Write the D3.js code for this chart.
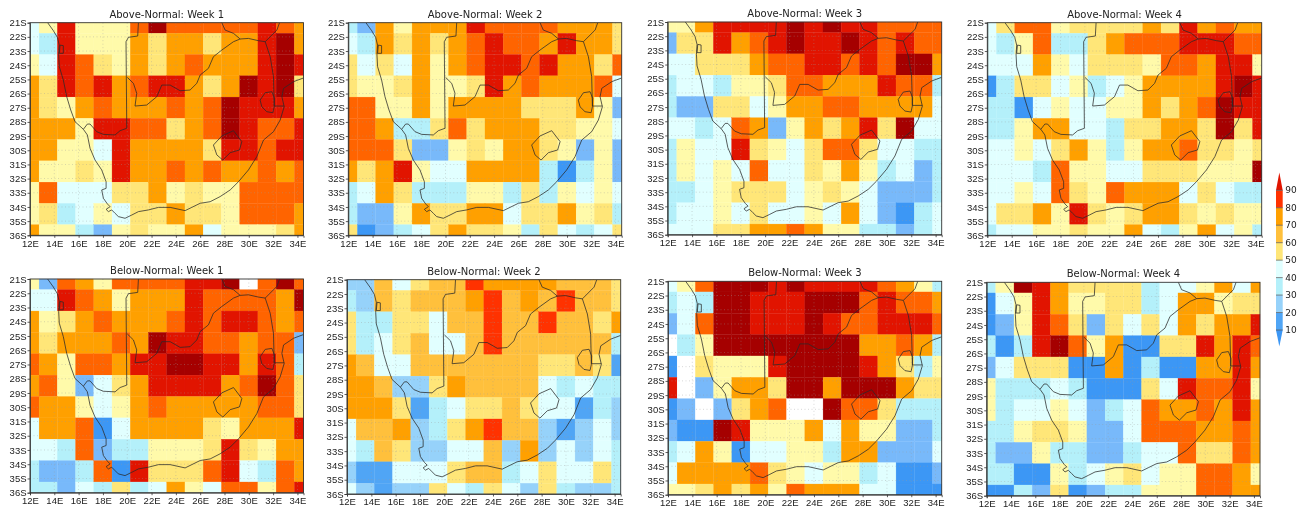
<!DOCTYPE html>
<html>
<head>
<meta charset="utf-8">
<script src="https://d3js.org/d3.v7.min.js"></script>
<style>
	html, body { margin: 0; padding: 0; background: #fff; }
	svg { display: block; filter: blur(0.35px); }
	text { font-family: "DejaVu Sans", sans-serif; fill: #222; }
	.title { font-size: 10px; }
	.axis text { font-family: "Liberation Sans Narrow", "Liberation Sans", sans-serif; font-size: 9.5px; }
	.axis path, .axis line { stroke: #333; stroke-width: 0.8; }
</style>
</head>
<body>
<div id="container"></div>
<script>
//grid centres: 1.5 degree boxes
var lons = [12, 13.5, 15, 16.5, 18, 19.5, 21, 22.5, 24, 25.5, 27, 28.5, 30, 31.5, 33, 34.5];
var lats = [21, 22.5, 24, 25.5, 27, 28.5, 30, 31.5, 33, 34.5, 36];
var lonTicks = [12, 14, 16, 18, 20, 22, 24, 26, 28, 30, 32, 34];
var latTicks = [21, 22, 23, 24, 25, 26, 27, 28, 29, 30, 31, 32, 33, 34, 35, 36];

//probabilities (percent), one row per latitude
var aboveWeek1 = [
	[35,47,85,47,47,47,75,95,75,75,75,75,75,85,75,65],
	[35,25,85,47,47,47,65,55,65,65,55,65,65,85,95,65],
	[47,35,85,75,55,47,65,55,65,75,65,65,65,85,95,85],
	[65,55,85,75,85,65,75,85,85,65,55,65,95,85,95,55],
	[65,55,47,65,75,65,65,65,75,65,75,95,85,85,85,65],
	[65,65,65,47,85,85,75,75,55,65,75,95,85,75,75,85],
	[65,65,47,47,35,85,65,65,65,65,55,85,85,75,85,85],
	[65,47,47,55,47,85,65,65,75,65,75,65,65,75,65,75],
	[47,75,35,35,35,55,55,65,47,55,47,47,75,75,75,75],
	[47,55,25,35,47,35,55,55,65,55,55,47,75,75,75,65],
	[65,47,47,25,15,47,55,47,47,65,35,47,47,47,55,65]
];
var aboveWeek2 = [
	[25,15,65,47,65,65,65,85,75,75,75,75,65,65,65,55],
	[35,25,65,55,65,55,65,75,85,75,75,65,85,65,65,55],
	[55,35,55,35,65,47,65,75,85,85,75,85,65,65,55,75],
	[55,47,47,55,65,47,47,55,85,65,75,65,65,65,75,35],
	[75,75,47,47,65,47,65,65,65,65,55,55,55,65,47,15],
	[75,75,65,25,25,55,75,55,65,65,65,55,55,47,47,35],
	[75,75,75,55,15,15,47,55,47,65,65,55,47,15,47,15],
	[65,55,65,85,47,35,35,65,65,65,65,25,8,25,47,15],
	[25,35,65,55,25,25,25,47,47,25,55,25,47,35,47,35],
	[25,15,15,47,65,55,55,65,65,35,55,55,65,47,55,25],
	[55,8,15,25,35,55,65,55,55,47,25,55,35,25,35,55]
];
var aboveWeek3 = [
	[47,47,65,85,85,85,85,95,85,95,85,85,75,75,75,75],
	[15,55,55,85,65,75,85,95,85,85,95,85,75,85,75,75],
	[35,35,55,55,55,65,75,75,85,85,75,85,75,95,95,65],
	[25,35,35,25,47,47,55,75,75,65,65,65,85,75,75,25],
	[25,15,15,55,55,35,47,65,65,75,75,65,65,65,65,35],
	[35,35,25,35,75,65,15,47,65,55,65,85,55,95,35,35],
	[25,47,35,35,85,55,47,35,55,75,75,55,35,35,25,25],
	[25,47,35,47,35,75,35,35,55,47,65,47,25,35,15,25],
	[25,25,35,47,55,55,55,35,47,55,47,35,15,15,15,25],
	[25,35,35,47,35,55,35,35,47,35,65,35,15,8,25,35],
	[35,35,35,55,55,65,65,75,65,47,47,25,25,15,25,35]
];
var aboveWeek4 = [
	[35,55,75,75,47,55,55,55,55,65,55,85,65,75,65,65],
	[35,25,47,75,25,25,55,65,75,75,75,85,85,85,75,75],
	[35,35,35,65,47,35,55,55,55,47,75,75,65,85,85,47],
	[8,25,55,55,35,47,25,35,47,65,65,65,65,85,95,85],
	[25,25,8,35,47,35,35,47,47,65,55,65,75,95,85,85],
	[25,25,47,65,65,35,35,25,55,55,65,65,55,95,55,85],
	[35,35,47,35,55,65,47,25,47,65,65,75,55,55,47,55],
	[35,35,35,25,75,47,47,35,35,55,55,55,47,47,47,95],
	[35,35,47,35,75,55,47,75,65,65,65,35,55,35,25,25],
	[35,55,55,65,47,85,55,47,55,65,65,55,47,55,47,47],
	[25,35,35,47,47,55,47,47,65,35,25,47,65,35,47,25]
];
var belowWeek1 = [
	[47,15,75,65,47,75,75,75,75,85,85,95,42,75,95,75],
	[35,35,85,75,65,47,65,65,65,85,75,75,75,75,65,95],
	[65,47,55,65,75,65,65,65,75,85,75,85,85,75,65,75],
	[65,55,65,65,65,75,65,95,85,85,75,75,65,75,75,15],
	[75,65,47,75,75,65,85,85,95,95,85,85,65,85,75,25],
	[65,75,47,15,35,55,65,85,85,85,85,65,75,95,75,55],
	[75,65,65,47,35,47,65,75,65,65,65,65,65,75,75,55],
	[35,65,65,75,8,35,65,65,65,65,55,47,65,65,65,85],
	[35,35,25,75,15,25,25,47,47,47,55,85,55,47,65,65],
	[25,15,15,25,75,8,85,55,55,55,75,85,35,25,75,65],
	[25,25,15,35,25,55,25,35,65,47,35,75,75,47,75,85]
];
//this panel has the same colours as the colour bar
var belowWeek2 = [
	[25,25,65,45,55,65,65,85,75,75,75,75,65,65,65,55],
	[35,25,65,55,65,65,65,75,85,65,75,65,85,65,65,55],
	[55,35,35,55,55,45,65,65,85,65,65,85,65,65,55,75],
	[55,35,45,55,65,45,45,65,85,65,65,65,65,65,65,35],
	[75,65,45,45,65,65,65,65,65,65,65,55,55,65,55,15],
	[75,75,65,25,25,55,75,65,65,65,65,45,35,45,35,35],
	[75,75,75,55,15,35,45,55,55,65,55,45,45,15,35,25],
	[45,65,65,75,25,35,55,75,85,65,65,25,15,25,45,25],
	[45,35,65,55,25,25,45,45,65,25,75,25,45,25,45,35],
	[25,15,15,45,45,45,55,65,65,35,45,55,45,45,55,35],
	[45,25,15,25,25,55,45,35,55,45,25,55,35,25,25,35]
];
var belowWeek3 = [
	[35,47,75,95,95,95,85,95,85,85,85,85,75,65,47,25],
	[25,35,25,95,95,85,85,85,95,95,95,75,85,75,75,65],
	[15,35,75,95,95,85,85,85,95,85,75,75,85,85,85,75],
	[42,25,47,95,95,95,95,95,95,95,95,65,65,75,65,25],
	[8,42,55,47,47,47,85,95,95,95,95,85,65,55,25,47],
	[85,42,15,47,65,65,55,95,95,65,95,95,95,65,55,55],
	[8,15,42,15,55,65,75,42,42,95,75,75,55,25,25,25],
	[15,8,8,95,85,47,47,47,65,35,65,47,47,15,15,25],
	[25,35,65,47,8,35,35,47,47,25,65,65,15,15,15,35],
	[35,65,65,65,65,75,55,47,35,47,47,25,35,8,8,15],
	[47,47,55,65,55,65,47,75,65,65,65,35,35,8,8,8]
];
var belowWeek4 = [
	[25,47,95,85,65,55,55,55,55,25,35,35,47,65,35,65],
	[8,35,47,85,65,47,47,55,55,25,35,65,65,47,55,55],
	[8,15,47,85,75,55,15,55,35,55,35,65,55,65,65,85],
	[25,8,25,85,95,75,47,65,8,8,55,55,85,65,85,75],
	[15,35,55,55,55,8,8,65,8,25,8,8,65,65,85,65],
	[47,25,25,25,35,25,8,8,8,55,35,85,75,75,85,47],
	[47,25,35,35,47,35,15,25,35,75,65,65,75,65,85,65],
	[25,25,47,55,55,47,15,15,35,75,75,75,65,65,75,65],
	[25,15,15,47,25,25,15,15,25,35,35,75,55,55,75,65],
	[25,25,8,8,47,25,35,47,55,35,47,47,75,75,65,47],
	[8,8,25,15,55,8,15,25,25,47,47,47,75,75,65,65]
];

//the map, as lon / degrees south
var coast = [[13.45,21],[13.92,21.56],[14.25,22.03],[14.41,22.58],[14.36,23.28],[14.41,24.1],[14.74,25.04],[15.02,26.22],[15.35,27.16],[15.7,27.98],[16.39,28.52],[16.72,28.92],[16.94,29.86],[17.35,30.69],[17.9,31.39],[18.26,32.22],[18.26,32.69],[17.9,32.8],[18.04,33.39],[18.37,33.79],[18.59,33.98],[18.26,34.17],[18.45,34.33],[18.72,34.21],[19,34.45],[19.27,34.68],[19.82,34.8],[20.37,34.57],[20.92,34.33],[21.74,34.21],[22.57,34.03],[23.53,34.03],[24.76,34.26],[25.31,34.03],[26,33.74],[26.82,33.63],[27.64,33.27],[28.47,32.8],[29.15,32.22],[29.97,31.39],[30.66,30.45],[31.21,29.28],[32.03,28.69],[32.58,27.87],[32.91,26.93],[32.72,26.22],[32.86,25.63],[33.68,25.16],[34.5,24.9]];
var namibiaBorder = [[20.92,21],[20.86,21.94],[20.1,22.03],[19.9,22.34],[19.96,28.45],[19.41,28.62],[19,28.92],[18.04,28.88],[17.49,28.69],[16.94,28.15],[16.72,28.15],[16.39,28.52]];
var botswanaBorder = [[20.01,24.86],[20.51,25.28],[20.78,25.98],[20.64,26.88],[21.6,26.81],[22.43,26.22],[22.84,25.4],[23.53,25.4],[24.35,25.8],[25.17,25.75],[25.72,25.28],[26,24.69],[26.68,24.22],[27.09,23.4],[27.78,22.93],[28.74,22.34],[29.29,22.15],[29.97,22.11],[30.8,22.27],[31.35,22.34],[31.76,23.4],[32.03,24.81],[32.09,26.88],[32.91,26.88]];
var zimbabweBorder = [[27.78,21],[28.05,21.52],[28.74,21.75],[29.29,22.15]];
var mozambiqueBorder = [[31.35,22.34],[32.31,21.52],[32.53,21]];
var swaziland = [[30.93,26.46],[31.35,25.94],[31.9,25.87],[32.11,26.34],[32.09,26.93],[31.98,27.35],[31.48,27.28],[31.07,26.93],[30.93,26.46]];
var lesotho = [[27.09,29.63],[27.78,28.99],[28.74,28.62],[29.43,29.39],[29.23,29.98],[28.47,30.17],[27.86,30.69],[27.37,30.33],[27.09,29.63]];
var walvisBay = [[14.47,22.58],[14.74,22.62],[14.74,23.16],[14.41,23.16],[14.47,22.58]];
var mapLines = [coast, namibiaBorder, botswanaBorder, zimbabweBorder, mozambiqueBorder, swaziland, lesotho, walvisBay];

//two sets of shading levels are used
var levels = [10, 20, 30, 40, 45, 50, 60, 70, 80, 90];
var colors = ["#3c97f5","#78b9fa","#b4f0fa","#e1ffff","#ffffff","#fffaaa","#ffe678","#ffa000","#ff6400","#e11400","#a50000"];
var barLevels = [10, 20, 30, 40, 50, 60, 70, 80, 90];
var barColors = ["#3c97f5","#50a5f5","#96d2fa","#b4f0fa","#e1ffff","#ffe678","#ffc03c","#ffa000","#ff3200","#e11400"];

var colorMap = d3.scaleThreshold().domain(levels).range(colors);
var barMap = d3.scaleThreshold().domain(barLevels).range(barColors);

var width = 1304, height = 508;

var svg = d3.select("#container").append("svg")
	.attr("width", width)
	.attr("height", height);

var panels = [
	{title: "Above-Normal: Week 1", values: aboveWeek1, color: colorMap, x0: 30, x1: 303.5, y0: 22.7, y1: 235.3},
	{title: "Above-Normal: Week 2", values: aboveWeek2, color: colorMap, x0: 348.3, x1: 621.7, y0: 22.7, y1: 235.3},
	{title: "Above-Normal: Week 3", values: aboveWeek3, color: colorMap, x0: 667.7, x1: 941.7, y0: 22, y1: 234.7},
	{title: "Above-Normal: Week 4", values: aboveWeek4, color: colorMap, x0: 987.3, x1: 1261.7, y0: 22.7, y1: 235.3},
	{title: "Below-Normal: Week 1", values: belowWeek1, color: colorMap, x0: 30, x1: 303.5, y0: 279, y1: 492.7},
	{title: "Below-Normal: Week 2", values: belowWeek2, color: barMap, x0: 347, x1: 620.7, y0: 279.7, y1: 494},
	{title: "Below-Normal: Week 3", values: belowWeek3, color: colorMap, x0: 668, x1: 941.7, y0: 281.3, y1: 494.7},
	{title: "Below-Normal: Week 4", values: belowWeek4, color: colorMap, x0: 986.7, x1: 1260, y0: 282.3, y1: 495.7}
];

panels.forEach(function(p, i) { drawPanel(p, i); });
drawColorBar();

function drawPanel(p, i) {
	var x = d3.scaleLinear().domain([12, 34.5]).range([p.x0, p.x1]);
	var y = d3.scaleLinear().domain([21, 36]).range([p.y0, p.y1]);

	var g = svg.append("g").attr("class", "panel");

	//clip so the map stays in the frame
	svg.append("clipPath").attr("id", "clip" + i)
		.append("rect")
		.attr("x", p.x0).attr("y", p.y0)
		.attr("width", p.x1 - p.x0).attr("height", p.y1 - p.y0);

	//one rect per grid box, the outer boxes are cut in half by the frame
	var cells = [];
	p.values.forEach(function(row, r) {
		row.forEach(function(v, c) {
			cells.push({lon: lons[c], lat: lats[r], value: v});
		});
	});

	g.selectAll(".cell")
		.data(cells).enter()
		.append("rect")
			.attr("class", "cell")
			.attr("x", function(d) { return x(Math.max(12, d.lon - 0.75)); })
			.attr("y", function(d) { return y(Math.max(21, d.lat - 0.75)); })
			.attr("width", function(d) { return x(Math.min(34.5, d.lon + 0.75)) - x(Math.max(12, d.lon - 0.75)); })
			.attr("height", function(d) { return y(Math.min(36, d.lat + 0.75)) - y(Math.max(21, d.lat - 0.75)); })
			.style("fill", function(d) { return p.color(d.value); })
			.style("stroke", function(d) { return p.color(d.value); })
			.style("stroke-width", 0.3);

	//dotted grid
	g.selectAll(".vgrid")
		.data(lonTicks.slice(1)).enter()
		.append("line")
			.attr("x1", function(d) { return x(d); })
			.attr("x2", function(d) { return x(d); })
			.attr("y1", p.y0).attr("y2", p.y1)
			.style("stroke", "#999").style("stroke-width", 0.7)
			.style("stroke-dasharray", "1,2.5").style("opacity", 0.55);
	g.selectAll(".hgrid")
		.data(latTicks.slice(1, -1)).enter()
		.append("line")
			.attr("y1", function(d) { return y(d); })
			.attr("y2", function(d) { return y(d); })
			.attr("x1", p.x0).attr("x2", p.x1)
			.style("stroke", "#999").style("stroke-width", 0.7)
			.style("stroke-dasharray", "1,2.5").style("opacity", 0.55);

	//coast and borders
	var line = d3.line()
		.x(function(d) { return x(d[0]); })
		.y(function(d) { return y(d[1]); });

	g.selectAll(".map")
		.data(mapLines).enter()
		.append("path")
			.attr("class", "map")
			.attr("clip-path", "url(#clip" + i + ")")
			.attr("d", line)
			.style("fill", "none")
			.style("stroke", "#2a2a2a")
			.style("stroke-width", 0.9)
			.style("opacity", 0.85);

	//frame
	g.append("rect")
		.attr("x", p.x0).attr("y", p.y0)
		.attr("width", p.x1 - p.x0).attr("height", p.y1 - p.y0)
		.style("fill", "none").style("stroke", "#333").style("stroke-width", 0.9);

	//axes
	var xAxis = d3.axisBottom(x).tickValues(lonTicks).tickSize(2.5).tickPadding(2)
		.tickFormat(function(d) { return d + "E"; });
	var yAxis = d3.axisLeft(y).tickValues(latTicks).tickSize(2.5).tickPadding(1)
		.tickFormat(function(d) { return d + "S"; });

	g.append("g")
		.attr("class", "x axis")
		.attr("transform", "translate(0," + p.y1 + ")")
		.call(xAxis);
	g.append("g")
		.attr("class", "y axis")
		.attr("transform", "translate(" + p.x0 + ",0)")
		.call(yAxis);

	g.append("text")
		.attr("class", "title")
		.attr("x", (p.x0 + p.x1) / 2)
		.attr("y", p.y0 - 5)
		.style("text-anchor", "middle")
		.text(p.title);
}

function drawColorBar() {
	var y = d3.scaleLinear().domain([10, 90]).range([330, 190.3]);
	var left = 1276, right = 1282.7;
	var g = svg.append("g").attr("class", "colorbar");

	//bands between the levels
	g.selectAll(".band")
		.data(barLevels.slice(0, -1)).enter()
		.append("rect")
			.attr("class", "band")
			.attr("x", left)
			.attr("y", function(d) { return y(d + 10); })
			.attr("width", right - left)
			.attr("height", function(d) { return y(d) - y(d + 10); })
			.style("fill", function(d) { return barMap(d); });

	//the two end triangles
	g.append("path")
		.attr("d", d3.line()([[left, y(90)], [(left + right) / 2, y(100.2)], [right, y(90)]]))
		.style("fill", barMap(95));
	g.append("path")
		.attr("d", d3.line()([[left, y(10)], [(left + right) / 2, y(0.5)], [right, y(10)]]))
		.style("fill", barMap(5));

	g.selectAll(".level")
		.data(barLevels).enter()
		.append("line")
			.attr("class", "level")
			.attr("x1", left).attr("x2", right)
			.attr("y1", function(d) { return y(d); })
			.attr("y2", function(d) { return y(d); })
			.style("stroke", "#555").style("stroke-width", 0.7);

	g.selectAll(".label")
		.data(barLevels).enter()
		.append("text")
			.attr("class", "label")
			.attr("x", right + 2.5)
			.attr("y", function(d) { return y(d); })
			.attr("dy", ".35em")
			.style("font-size", "9px")
			.text(function(d) { return d; });
}
</script>
</body>
</html>
